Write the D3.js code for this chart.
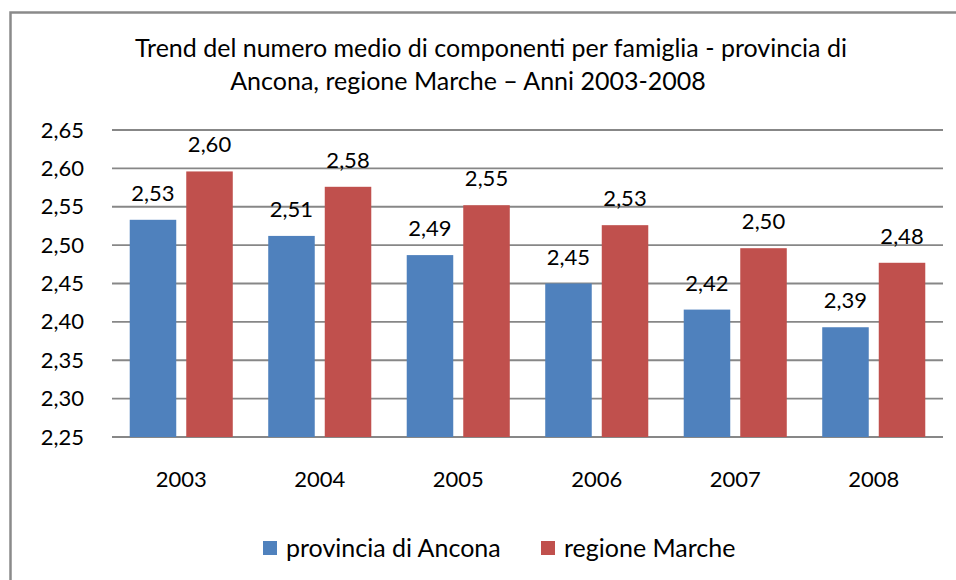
<!DOCTYPE html>
<html>
<head>
<meta charset="utf-8">
<script src="https://cdn.jsdelivr.net/npm/d3@7"></script>
<style>
  body { margin: 0; background: #fff; }
  text { font-family: Lato, "Open Sans", sans-serif; fill: #000; }
</style>
</head>
<body>
<svg id="chart"></svg>
<script>
var years = ["2003", "2004", "2005", "2006", "2007", "2008"]
var seriesNames = ["provincia di Ancona", "regione Marche"]
var ancona = [2.533, 2.512, 2.487, 2.450, 2.416, 2.393]
var marche = [2.596, 2.576, 2.552, 2.526, 2.496, 2.477]
var yTicks = [2.25, 2.30, 2.35, 2.40, 2.45, 2.50, 2.55, 2.60, 2.65]
var titleLines = ["Trend del numero medio di componenti per famiglia - provincia di",
                  "Ancona, regione Marche \u2013 Anni 2003-2008"]
var colors = ["#4f81bd", "#c0504d"]

var dimensions = {
    width: 956,
    height: 580,
    margin: { top: 130, bottom: 143, right: 13, left: 112 }
}

var svg = d3.select("#chart")
            .attr("width", dimensions.width)
            .attr("height", dimensions.height)

// outer frame (cut by the picture on right and bottom)
svg.append("rect")
   .attr("x", 10.5).attr("y", 12.5)
   .attr("width", 980).attr("height", 620)
   .style("fill", "none")
   .style("stroke", "#8a8a8a")
   .style("stroke-width", 2.5)

var it = d3.formatLocale({ decimal: ",", thousands: ".", grouping: [3], currency: ["", "€"] })
var fmt = it.format(".2f")

var xScale = d3.scaleBand()
               .domain(years)
               .range([dimensions.margin.left, dimensions.width - dimensions.margin.right])
               .paddingInner(0.256)
               .paddingOuter(0.128)

var xInner = d3.scaleBand()
               .domain(seriesNames)
               .range([0, xScale.bandwidth()])
               .paddingInner(0.177)

var yScale = d3.scaleLinear()
               .domain([2.25, 2.65])
               .range([dimensions.height - dimensions.margin.bottom, dimensions.margin.top])

// gridlines
svg.append("g")
   .selectAll("line")
   .data(yTicks)
   .join("line")
   .attr("x1", dimensions.margin.left)
   .attr("x2", dimensions.width - dimensions.margin.right)
   .attr("y1", d => yScale(d))
   .attr("y2", d => yScale(d))
   .style("stroke", "#878787")
   .style("stroke-width", 1.8)

// y axis labels
var yAxisgen = d3.axisLeft(yScale).tickValues(yTicks).tickFormat(fmt).tickSize(0).tickPadding(28)
var yAxis = svg.append("g")
               .attr("transform", `translate(${dimensions.margin.left},0)`)
               .call(yAxisgen)
yAxis.select(".domain").remove()
yAxis.selectAll("text").style("font-size", "22px").style("font-family", "Lato, sans-serif")

// x axis labels
var xAxisgen = d3.axisBottom(xScale).tickSize(0).tickPadding(34)
var xAxis = svg.append("g")
               .attr("transform", `translate(0,${dimensions.height - dimensions.margin.bottom})`)
               .call(xAxisgen)
xAxis.select(".domain").remove()
xAxis.selectAll("text").style("font-size", "22px").style("font-family", "Lato, sans-serif")

var rows = years.map((y, i) => ({ year: y, values: [ancona[i], marche[i]] }))

var groups = svg.append("g")
                .selectAll("g")
                .data(rows)
                .join("g")
                .attr("transform", d => `translate(${xScale(d.year)},0)`)

groups.selectAll("rect")
      .data(d => d.values.map((v, k) => ({ key: seriesNames[k], value: v, k: k })))
      .join("rect")
      .attr("x", d => xInner(d.key))
      .attr("width", xInner.bandwidth())
      .attr("y", d => yScale(d.value))
      .attr("height", d => yScale(2.25) - yScale(d.value))
      .style("fill", d => colors[d.k])

groups.selectAll("text.val")
      .data(d => d.values.map((v, k) => ({ key: seriesNames[k], value: v })))
      .join("text")
      .attr("class", "val")
      .attr("x", d => xInner(d.key) + xInner.bandwidth() / 2)
      .attr("y", d => yScale(d.value) - 19)
      .attr("text-anchor", "middle")
      .style("font-size", "22px")
      .text(d => fmt(d.value))

// title
var titleX = [491, 468]
svg.append("g")
   .selectAll("text")
   .data(titleLines)
   .join("text")
   .attr("x", (d, i) => titleX[i])
   .attr("y", (d, i) => 57 + i * 33)
   .attr("text-anchor", "middle")
   .style("font-size", "25px")
   .text(d => d)

// legend
var legendX = [263, 541]
var legend = svg.append("g")
                .selectAll("g")
                .data(seriesNames)
                .join("g")
                .attr("transform", (d, i) => `translate(${legendX[i]},541)`)
legend.append("rect")
      .attr("width", 14).attr("height", 14)
      .style("fill", (d, i) => colors[i])
legend.append("text")
      .attr("x", 23).attr("y", 16)
      .style("font-size", "25px")
      .text(d => d)
</script>
</body>
</html>
